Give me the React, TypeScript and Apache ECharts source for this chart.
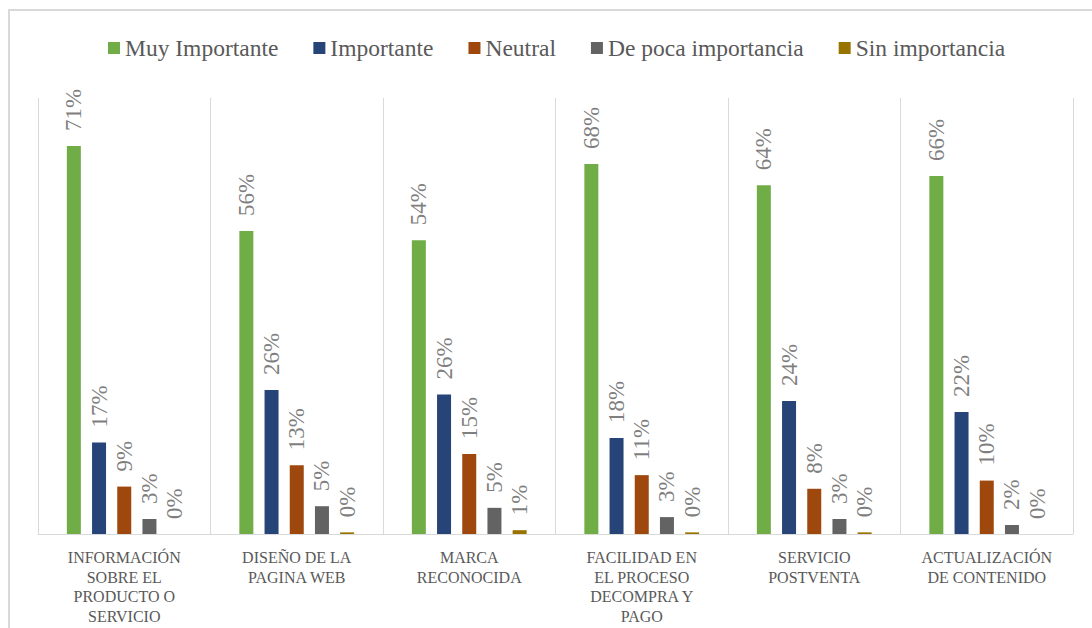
import { useEffect, useRef } from "react";
import * as echarts from "echarts";

const categories = [
  "INFORMACIÓN\nSOBRE EL\nPRODUCTO O\nSERVICIO",
  "DISEÑO DE LA\nPAGINA WEB",
  "MARCA\nRECONOCIDA",
  "FACILIDAD EN\nEL PROCESO\nDECOMPRA Y\nPAGO",
  "SERVICIO\nPOSTVENTA",
  "ACTUALIZACIÓN\nDE CONTENIDO",
];

const seriesNames = ["Muy Importante", "Importante", "Neutral", "De poca importancia", "Sin importancia"];
const seriesColors = ["#70AD47", "#264478", "#9E480E", "#636363", "#997300"];

const muyImportante = [71.2, 55.6, 53.9, 67.9, 64.0, 65.7];
const importante = [16.8, 26.4, 25.6, 17.6, 24.4, 22.4];
const neutral = [8.7, 12.6, 14.7, 10.8, 8.3, 9.8];
const depoca = [2.75, 5.1, 4.8, 3.1, 2.75, 1.65];
const sinImportancia = [0, 0.3, 0.7, 0.3, 0.3, 0];

const seriesValues = [muyImportante, importante, neutral, depoca, sinImportancia];

const serif = "'Liberation Serif', 'Times New Roman', serif";

export default function App() {
  const ref = useRef<HTMLDivElement>(null);
  useEffect(() => {
    if (!ref.current) return;
    const chart = echarts.init(ref.current, undefined, { renderer: "svg" });
    chart.setOption({
      animation: false,
      backgroundColor: "#ffffff",
      graphic: [
        {
          type: "rect",
          shape: { x: 9, y: 10, width: 1110, height: 700 },
          style: { fill: "none", stroke: "#d9d9d9", lineWidth: 2 },
          silent: true,
          z: -10,
        },
      ],
      legend: {
        left: 108,
        top: 36,
        padding: 0,
        itemWidth: 12,
        itemHeight: 12,
        itemGap: 35,
        icon: "rect",
        textStyle: {
          fontFamily: serif,
          fontSize: 23.5,
          color: "#595959",
          lineHeight: 24,
        },
        data: seriesNames,
      },
      grid: { left: 38, right: 19, top: 98, bottom: 94, containLabel: false },
      xAxis: {
        type: "category",
        data: categories,
        axisLine: { show: true, lineStyle: { color: "#d9d9d9", width: 1 } },
        axisTick: { show: false },
        splitLine: { show: true, lineStyle: { color: "#d9d9d9", width: 1 } },
        axisLabel: {
          interval: 0,
          margin: 14,
          fontFamily: serif,
          fontSize: 16,
          lineHeight: 19.5,
          color: "#595959",
        },
      },
      yAxis: {
        type: "value",
        min: 0,
        max: 80,
        show: false,
        splitLine: { show: false },
      },
      series: seriesNames.map((name, i) => ({
        name,
        type: "bar",
        data: seriesValues[i],
        barWidth: 14,
        barGap: "80%",
        itemStyle: { color: seriesColors[i] },
        label: {
          show: true,
          position: "top",
          distance: 15,
          rotate: 90,
          align: "left",
          verticalAlign: "middle",
          fontFamily: serif,
          fontSize: 23,
          color: "#7f7f7f",
          formatter: (p: any) => Math.round(p.value) + "%",
        },
      })),
    });
    return () => chart.dispose();
  }, []);
  return (
    <div
      ref={ref}
      style={{ position: "fixed", left: 0, top: 0, width: 1092, height: 628 }}
    />
  );
}
